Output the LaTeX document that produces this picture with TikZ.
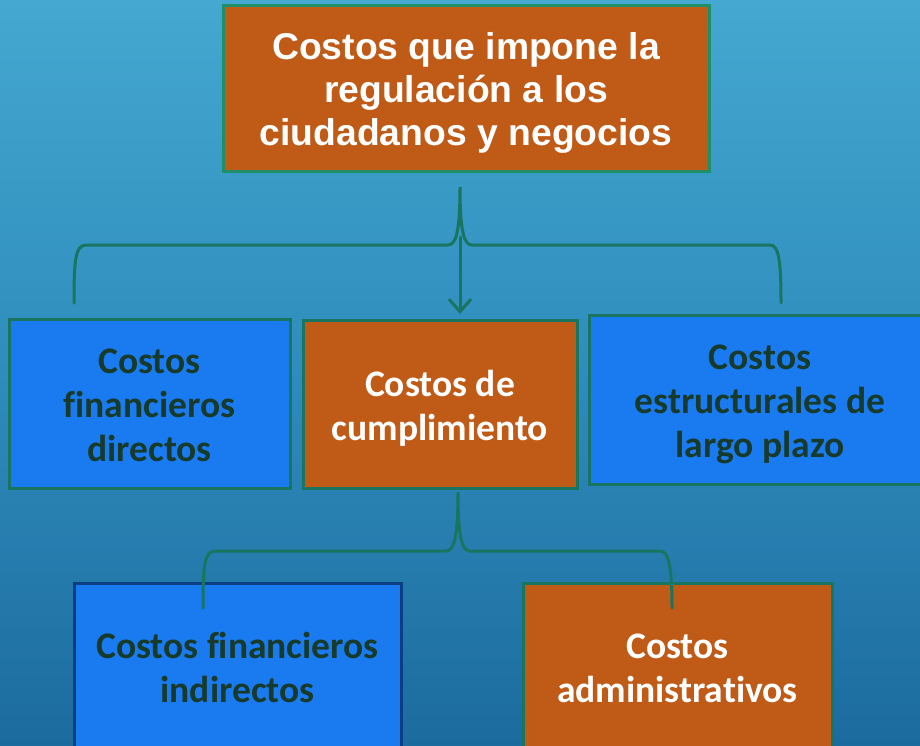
\documentclass[tikz,border=0pt]{standalone}
\usepackage{fontspec}
\setmainfont{Carlito}[Ligatures=CommonOff]
\newfontfamily\arialfont{Liberation Sans}
\usetikzlibrary{arrows.meta}
\definecolor{bgtop}{HTML}{44A8D0}
\definecolor{bgmid}{HTML}{2F8CBC}
\definecolor{bgbot}{HTML}{1C6B9E}
\definecolor{orangebox}{HTML}{C05A17}
\definecolor{bluebox}{HTML}{1A7AEF}
\definecolor{greenline}{HTML}{187560}
\definecolor{topline}{HTML}{1E8F66}
\definecolor{navyline}{HTML}{0D3E84}
\definecolor{darktext}{HTML}{173A2A}
\newcommand\topstrut[1]{\rule{0pt}{#1}}
\newcommand\botstrut{\rule[-12pt]{0pt}{12pt}}
\tikzset{
  boxbase/.style={draw=greenline, line width=3pt, inner sep=0pt, align=center, font=\fontsize{37.5}{44}\selectfont\bfseries},
  obox/.style={boxbase, fill=orangebox, text=white},
  bbox/.style={boxbase, fill=bluebox, text=darktext},
  conn/.style={draw=greenline, line width=3pt, line cap=round}
}
\begin{document}
\begin{tikzpicture}[x=1pt,y=-1pt]
\useasboundingbox (0,0) rectangle (920,745);
\clip (0,0) rectangle (920,745);
\shade[top color=bgtop, bottom color=bgbot, middle color=bgmid] (0,0) rectangle (920,745);

\node[obox, draw=topline, minimum width=486pt, minimum height=166pt,
      font=\arialfont\fontsize{37.3}{43}\selectfont\bfseries] (top) at (466,88)
  {\topstrut{40pt}Costos que impone la\\regulación a los\\ciudadanos y negocios\botstrut};

\node[bbox, minimum width=281pt, minimum height=169pt] (fd) at (149.5,403.5)
  {\topstrut{39pt}Costos\\financieros\\directos\botstrut};
\node[obox, minimum width=274pt, minimum height=168pt] (cum) at (440,404)
  {\topstrut{40pt}Costos de\\cumplimiento\botstrut};
\node[bbox, minimum width=342pt, minimum height=169pt] (est) at (760,399.5)
  {\topstrut{39pt}Costos\\estructurales de\\largo plazo\botstrut};

\node[bbox, draw=navyline, minimum width=327pt, minimum height=168pt] (fi) at (237.5,667)
  {\topstrut{38pt}Costos financieros\\indirectos\botstrut};
\node[obox, minimum width=309pt, minimum height=168pt] (adm) at (677.5,667)
  {\topstrut{38pt}Costos\\administrativos\botstrut};

% brace 1
\coordinate (s1) at (460,187);
\coordinate (l1) at (74,303);
\coordinate (r1) at (781,303);
\coordinate (a1) at (460,237);
\coordinate (a2) at (460,314);
\draw[conn] (l1) .. controls (74,262) and (75,245) .. (86,245) -- (448,245)
  .. controls (456,245) and (460,232) .. (s1)
  .. controls (460,232) and (464,245) .. (472,245) -- (770,245)
  .. controls (779,245) and (781,262) .. (r1);
\draw[conn, -{Straight Barb[length=12pt,width=21pt,line cap=round]}] (a1) -- (a2);

% brace 2
\coordinate (s2) at (458,492);
\coordinate (l2) at (203,608);
\coordinate (r2) at (672,608);
\draw[conn] (l2) .. controls (203,568) and (204,551) .. (215,551) -- (446,551)
  .. controls (454,551) and (458,538) .. (s2)
  .. controls (458,538) and (462,551) .. (470,551) -- (660,551)
  .. controls (669,551) and (672,568) .. (r2);
\end{tikzpicture}
\end{document}
